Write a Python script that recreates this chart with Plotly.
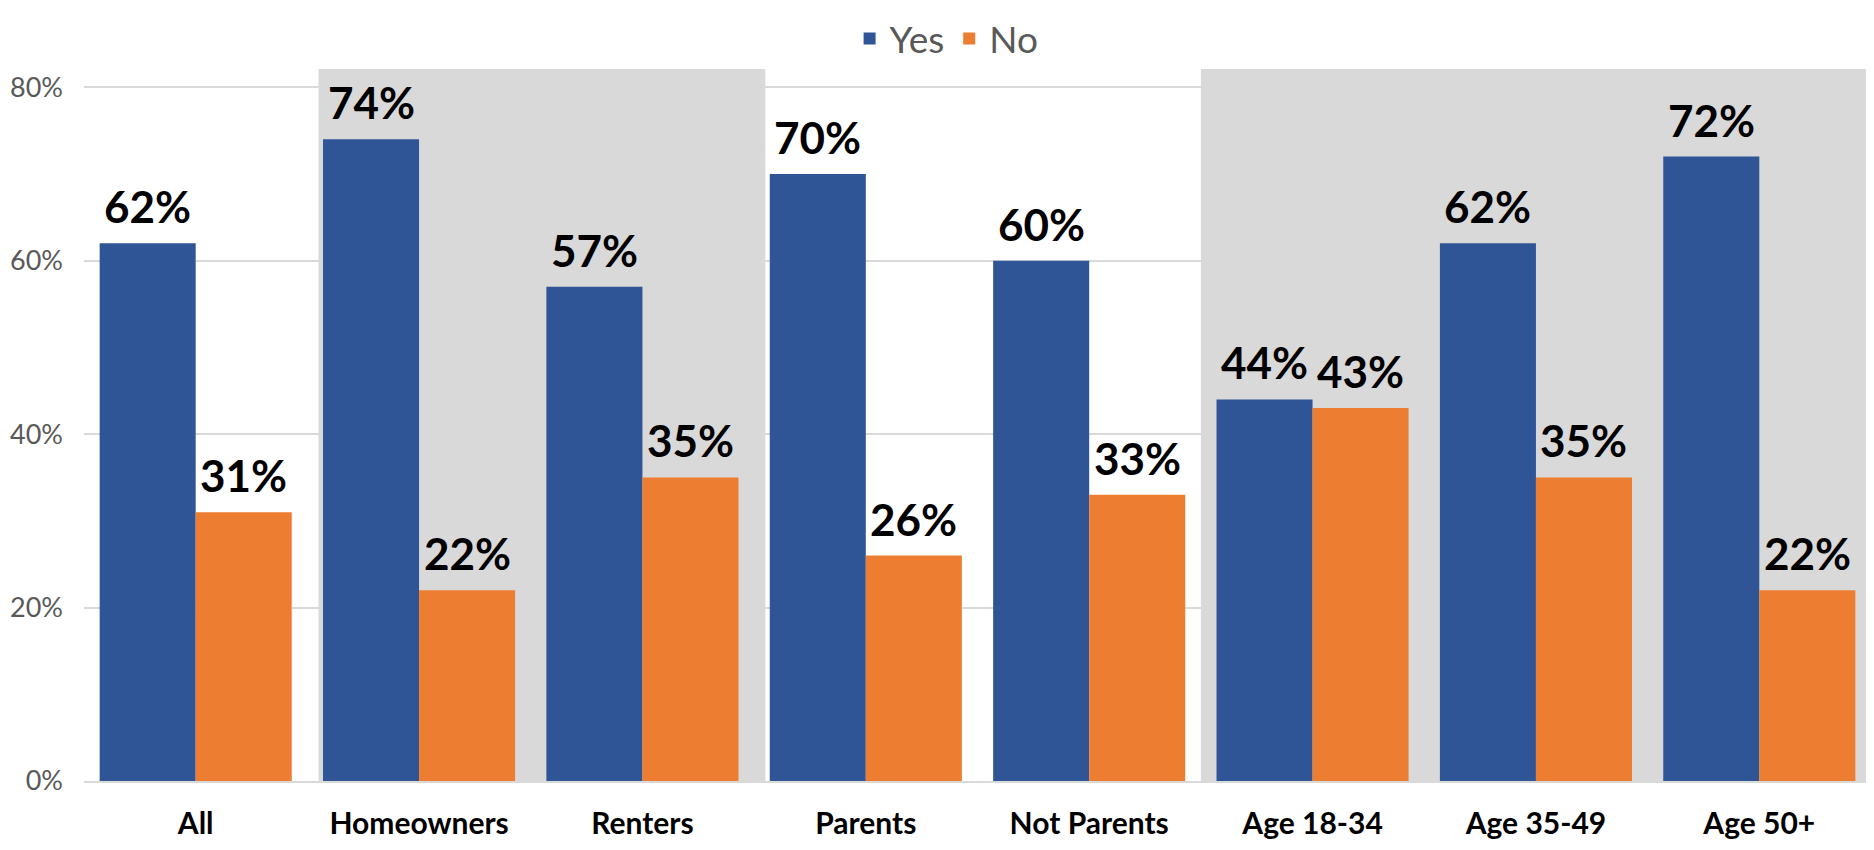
import plotly.graph_objects as go

categories = ["All", "Homeowners", "Renters", "Parents", "Not Parents", "Age 18-34", "Age 35-49", "Age 50+"]
yes_values = [62, 74, 57, 70, 60, 44, 62, 72]
no_values = [31, 22, 35, 26, 33, 43, 35, 22]
y_tickvals = [0, 20, 40, 60, 80]
y_ticktext = ["0%", "20%", "40%", "60%", "80%"]

# shaded background spans (in category-index units)
shade_spans = [(0.55, 2.55), (4.5, 7.5)]

BLUE = "#2F5597"
ORANGE = "#ED7D31"
SHADE = "#D9D9D9"
GRID = "#D9D9D9"
FONT = "Lato"
BW = 0.43

xs = list(range(len(categories)))

fig = go.Figure()
fig.add_trace(go.Bar(x=xs, y=yes_values, name="Yes", marker_color=BLUE,
                     width=BW, offset=-BW, marker_line_width=0))
fig.add_trace(go.Bar(x=xs, y=no_values, name="No", marker_color=ORANGE,
                     width=BW, offset=0, marker_line_width=0))

annotations = []
for i, (yv, nv) in enumerate(zip(yes_values, no_values)):
    for xv, v in ((i - BW / 2, yv), (i + BW / 2, nv)):
        annotations.append(dict(x=xv, y=v, xref="x", yref="y", text=f"{v}%",
                                showarrow=False, yanchor="bottom", yshift=9,
                                font=dict(family=FONT, size=44, color="black", weight="bold")))

shapes = [dict(type="rect", xref="x", yref="paper", x0=a, x1=b, y0=0, y1=1,
               fillcolor=SHADE, line_width=0, layer="between") for a, b in shade_spans]

fig.update_layout(
    width=1866, height=842,
    margin=dict(l=76, r=3, t=61, b=69, autoexpand=False),
    paper_bgcolor="white", plot_bgcolor="white",
    barmode="group",
    showlegend=True,
    legend=dict(orientation="h", x=0.503, xanchor="center", xref="container",
                y=1.0, yanchor="top", yref="container",
                font=dict(family=FONT, size=37, color="#595959"),
                borderwidth=0, itemwidth=30, traceorder="normal"),
    shapes=shapes,
    annotations=annotations,
    xaxis=dict(range=[-0.5, 7.5], tickmode="array", tickvals=xs, ticktext=categories,
               tickfont=dict(family=FONT, size=30, color="black", weight="bold"),
               showgrid=False, showline=True, linecolor=GRID, linewidth=2,
               ticklabelstandoff=15, zeroline=False),
    yaxis=dict(range=[0, 82.1], tickmode="array", tickvals=y_tickvals, ticktext=y_ticktext,
               tickfont=dict(family=FONT, size=27, color="#595959"),
               showgrid=True, gridcolor=GRID, gridwidth=2, zeroline=False,
               ticklabelstandoff=20),
)

fig.write_html("out.html")
